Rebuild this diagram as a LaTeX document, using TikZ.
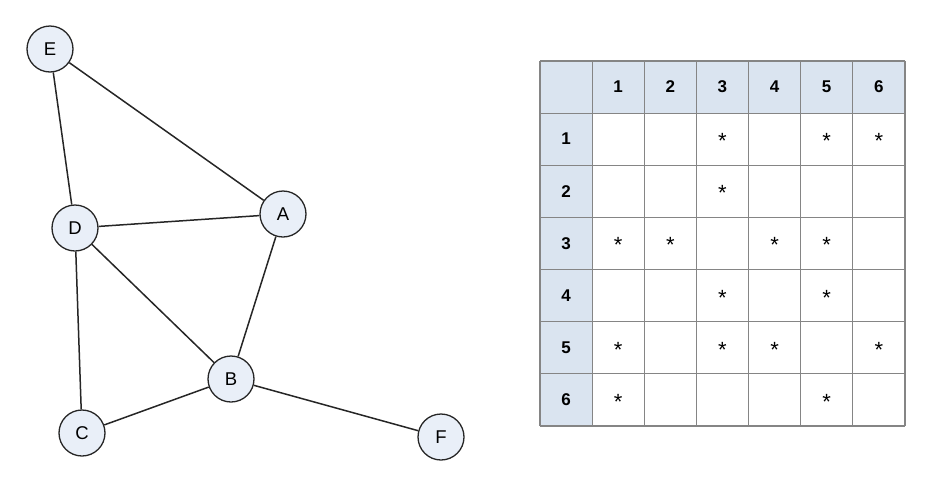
\documentclass[tikz,border=0pt]{standalone}
\usepackage{fontspec}
\setmainfont{Liberation Sans}
\usepackage{tikz}
\usetikzlibrary{positioning}

\definecolor{nodefill}{HTML}{E9EFF8}
\definecolor{headfill}{HTML}{DAE4F0}
\definecolor{gridline}{HTML}{858585}

\begin{document}
\begin{tikzpicture}[x=1pt,y=-1pt,
    vertex/.style={circle,draw=black!85,fill=nodefill,line width=1.3pt,minimum size=46pt,inner sep=0pt,font=\fontsize{18.5}{22}\selectfont},
    link/.style={draw=black!85,line width=1.5pt},
    cell/.style={draw=gridline,line width=1.2pt}]
    \useasboundingbox (0,0) rectangle (938,488);

    \node[vertex] (E) at (50, 49) {E};
    \node[vertex] (D) at (75, 228) {D};
    \node[vertex] (A) at (283, 214) {A};
    \node[vertex] (B) at (231, 379) {B};
    \node[vertex] (C) at (82, 433) {C};
    \node[vertex] (F) at (441, 437) {F};

    \path[link]
        (E) edge (D)
        (E) edge (A)
        (D) edge (A)
        (D) edge (B)
        (D) edge (C)
        (A) edge (B)
        (B) edge (C)
        (B) edge (F);

    % header cells
    \fill[headfill] (540, 61) rectangle (905, 113);
    \fill[headfill] (540, 61) rectangle (592, 426);

    \foreach \x in {0,...,7}
        \draw[cell] (540 + 52.14 * \x, 61) -- (540 + 52.14 * \x, 426);
    \foreach \y in {0,...,7}
        \draw[cell] (540, 61 + 52.14 * \y) -- (905, 61 + 52.14 * \y);

    \foreach \k in {1,...,6} {
        \node[font=\bfseries\fontsize{17}{20}\selectfont] (c\k) at (566 + 52.14 * \k, 87) {\k};
        \node[font=\bfseries\fontsize{17}{20}\selectfont] (r\k) at (566, 87 + 52.14 * \k) {\k};
    };

    % stars
    \foreach \r/\c in {1/3,1/5,1/6,2/3,3/1,3/2,3/4,3/5,4/3,4/5,5/1,5/3,5/4,5/6,6/1,6/5}
        \node[font=\fontsize{22}{26}\selectfont] (s\r\c) at (566 + 52.14 * \c, 89 + 52.14 * \r) {*};
\end{tikzpicture}
\end{document}
